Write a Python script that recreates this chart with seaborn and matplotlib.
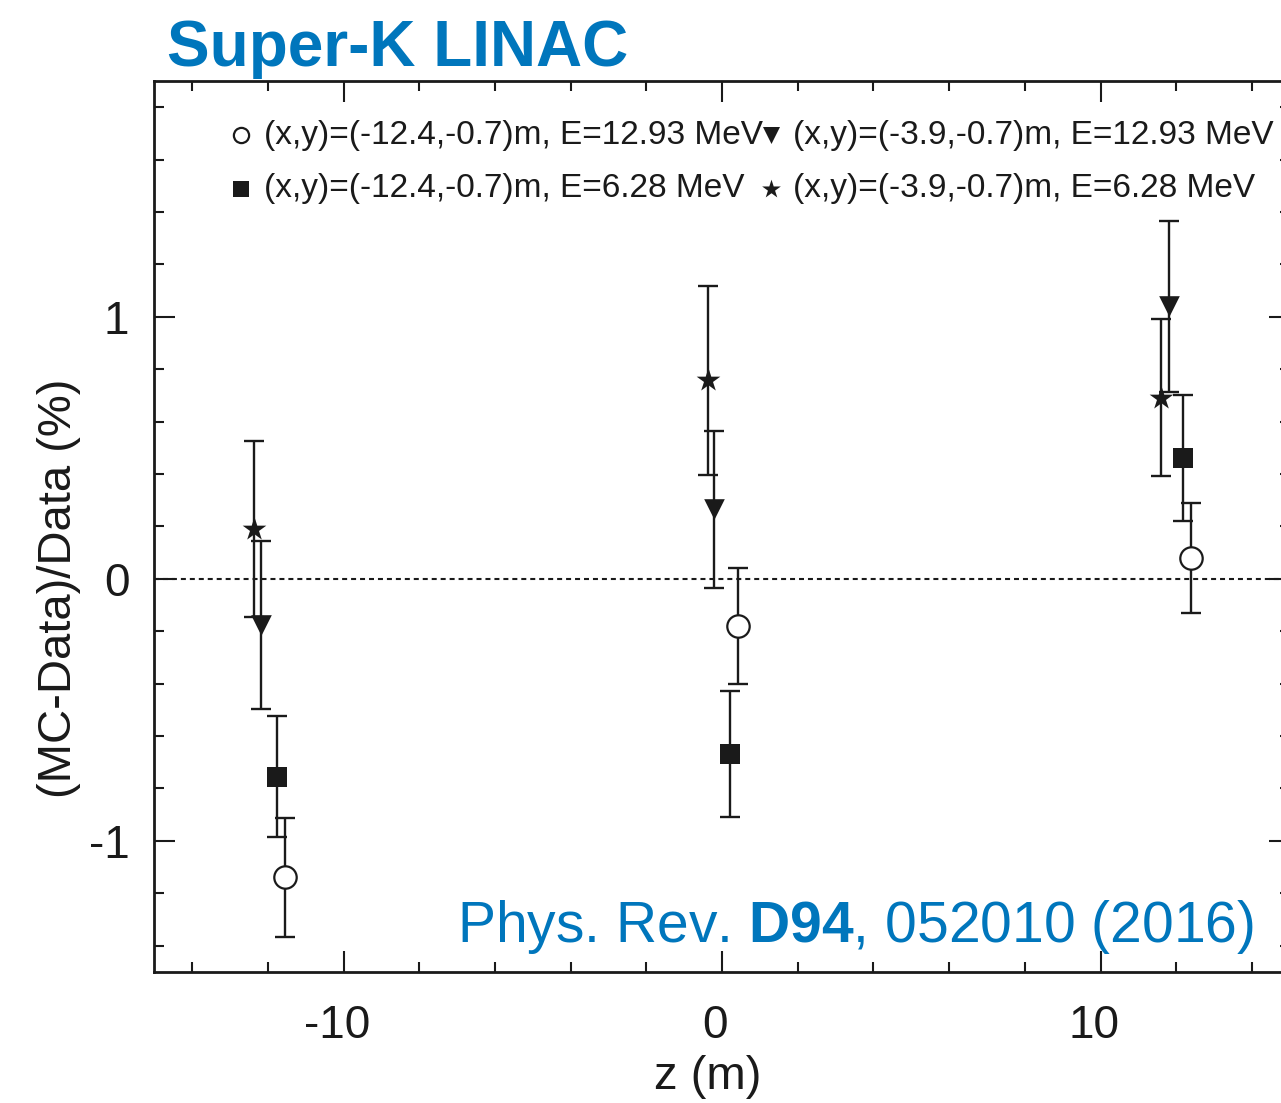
import numpy as np
import pandas as pd
import matplotlib
matplotlib.use("Agg")
import matplotlib.pyplot as plt
import matplotlib.transforms as mtransforms
from matplotlib.ticker import MultipleLocator
import seaborn as sns

# ---- data ----
labels = [
    "(x,y)=(-12.4,-0.7)m, E=12.93 MeV",
    "(x,y)=(-12.4,-0.7)m, E=6.28 MeV",
    "(x,y)=(-3.9,-0.7)m, E=12.93 MeV",
    "(x,y)=(-3.9,-0.7)m, E=6.28 MeV",
]
z_circle = [-11.56, 0.41, 12.39]
v_circle = [-1.14, -0.18, 0.08]
e_circle = [0.227, 0.22, 0.21]

z_square = [-11.76, 0.21, 12.19]
v_square = [-0.755, -0.67, 0.46]
e_square = [0.23, 0.24, 0.24]

z_tri = [-12.18, -0.21, 11.80]
v_tri = [-0.177, 0.265, 1.04]
e_tri = [0.32, 0.30, 0.326]

z_star = [-12.36, -0.38, 11.59]
v_star = [0.19, 0.757, 0.692]
e_star = [0.337, 0.36, 0.298]

xticks = [-10, 0, 10]
yticks = [-1, 0, 1]

title = "Super-K LINAC"
citation = r"Phys. Rev. $\mathbf{D94}$, 052010 (2016)"
xlabel = "z (m)"
ylabel = "(MC-Data)/Data (%)"

# ---- style ----
sns.set_style("ticks")
plt.rcParams["font.family"] = ["Liberation Sans", "DejaVu Sans"]
plt.rcParams["mathtext.fontset"] = "custom"
plt.rcParams["mathtext.rm"] = "Liberation Sans"
plt.rcParams["mathtext.bf"] = "Liberation Sans:bold"
plt.rcParams["axes.unicode_minus"] = False

BLUE = "#0076BC"
INK = "#1a1a1a"

fig = plt.figure(figsize=(12.81, 11.03), dpi=100)
ax = fig.add_axes([0.1205, 0.119, 0.8864, 0.8075])

series = [
    (z_circle, v_circle, e_circle, "o", 260, "white", 1.6, 120),
    (z_square, v_square, e_square, "s", 220, INK, 0, 145),
    (z_tri, v_tri, e_tri, "v", 220, INK, 0, 150),
    (z_star, v_star, e_star, "*", 320, INK, 0, 200),
]

for (z, v, e, m, s, fc, lw, _), lab in zip(series, labels):
    ax.errorbar(z, v, yerr=e, fmt="none", ecolor=INK, elinewidth=1.7,
                capsize=7.3, capthick=1.7, zorder=2)
    df = pd.DataFrame({"z": z, "v": v})
    sns.scatterplot(data=df, x="z", y="v", marker=m, s=s, color=fc,
                    edgecolor=INK, linewidth=lw, ax=ax, zorder=3,
                    label=lab)

ax.axhline(0, color=INK, lw=1.5, ls=(0, (2.4, 1.9)), zorder=1)

ax.set_xlim(-15, 15)
ax.set_ylim(-1.5, 1.9)
ax.set_xticks(xticks)
ax.set_yticks(yticks)
ax.xaxis.set_minor_locator(MultipleLocator(2))
ax.yaxis.set_minor_locator(MultipleLocator(0.2))
ax.tick_params(which="both", direction="in", top=True, right=True,
               width=1.5, color=INK, labelsize=33, labelcolor=INK)
ax.tick_params(which="major", length=15)
ax.tick_params(which="minor", length=7.5)
ax.tick_params(axis="x", pad=23)
ax.tick_params(axis="y", pad=18)
for sp in ax.spines.values():
    sp.set_linewidth(2.0)
    sp.set_color(INK)

# x tick labels sit slightly left of their ticks in the original
shift = mtransforms.ScaledTranslation(-5 / 72, 0, fig.dpi_scale_trans)
for lbl in ax.get_xticklabels():
    lbl.set_transform(lbl.get_transform() + shift)

ax.set_xlabel(xlabel, fontsize=34, color=INK)
ax.set_ylabel(ylabel, fontsize=34, color=INK)
ax.xaxis.set_label_coords(0.4876, -0.0935)
ax.yaxis.set_label_coords(-0.065, 0.43)

leg = ax.legend(ncol=2, loc="upper left",
                bbox_to_anchor=(233 / 1281, 1 - 120 / 1103),
                bbox_transform=fig.transFigure, frameon=False,
                fontsize=24, handlelength=0.5, handletextpad=0.42,
                columnspacing=0.0, borderpad=0, borderaxespad=0,
                labelspacing=0.67)
for h, (_, _, _, _, _, _, _, ls) in zip(leg.legend_handles, series):
    h.set_sizes([ls])
for t in leg.get_texts():
    t.set_color(INK)

fig.text(167 / 1281, 1 - 66 / 1103, title, fontsize=46, fontweight="bold",
         color=BLUE, ha="left", va="baseline")
fig.text(457 / 1281, 1 - 941.7 / 1103, citation, fontsize=41, color=BLUE,
         ha="left", va="baseline")

fig.savefig("out.png", dpi=100)
